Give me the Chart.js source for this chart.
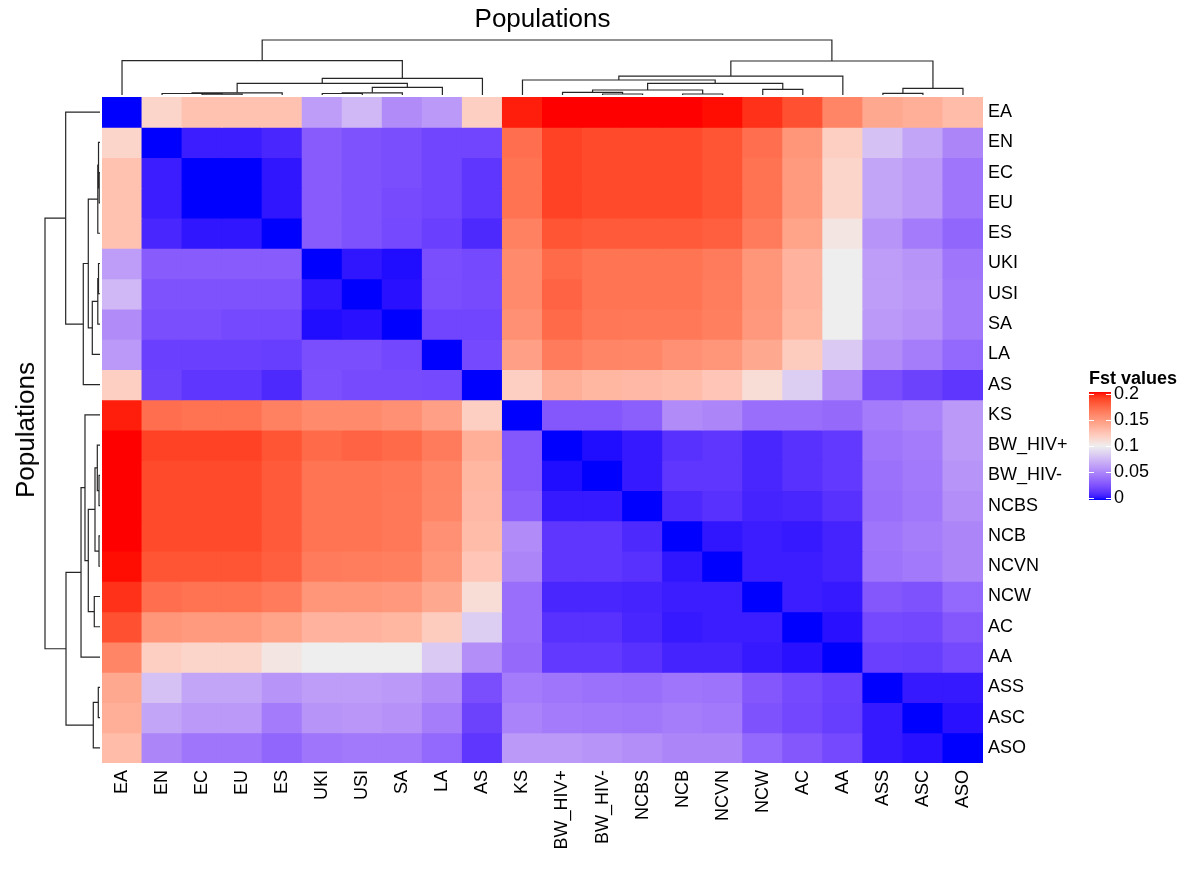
<!DOCTYPE html>
<html>
<head>
<meta charset="utf-8">
<script src="https://cdn.jsdelivr.net/npm/chart.js@4.4.1/dist/chart.umd.min.js"></script>
<style>
  body { margin: 0; background: #fff; font-family: "Liberation Sans", Arial, sans-serif; }
  #wrap { position: relative; width: 1191px; height: 870px; overflow: hidden; }
  #wrap canvas { position: absolute; }
  .txt { position: absolute; color: #000; white-space: nowrap; }
</style>
</head>
<body>
<div id="wrap">
  <canvas id="heat" width="1191" height="870" style="left:0;top:0"></canvas>
  <canvas id="colDend" width="881" height="60" style="left:102px;top:36px"></canvas>
  <canvas id="rowDend" width="62" height="666" style="left:40px;top:97px"></canvas>
  <div class="txt" style="left:102px;top:3px;width:881px;text-align:center;font-size:26px;line-height:30px">Populations</div>
  <div class="txt" style="left:25px;top:430px;font-size:26px;line-height:30px;transform:translate(-50%,-50%) rotate(-90deg)">Populations</div>
  <div id="legend"></div>
</div>
<script>
// populations, same order for rows and columns
const populations = ['EA', 'EN', 'EC', 'EU', 'ES', 'UKI', 'USI', 'SA', 'LA', 'AS', 'KS',
  'BW_HIV+', 'BW_HIV-', 'NCBS', 'NCB', 'NCVN', 'NCW', 'AC', 'AA', 'ASS', 'ASC', 'ASO'];

// pairwise Fst, one row per population
const fstValues = [
  [0, 0.115, 0.126, 0.126, 0.126, 0.062, 0.075, 0.054, 0.060, 0.118, 0.197, 0.200, 0.200, 0.200, 0.200, 0.199, 0.193, 0.183, 0.159, 0.140, 0.137, 0.129],
  [0.115, 0, 0.006, 0.006, 0.009, 0.031, 0.027, 0.025, 0.021, 0.021, 0.170, 0.188, 0.185, 0.185, 0.185, 0.181, 0.170, 0.150, 0.118, 0.079, 0.066, 0.051],
  [0.126, 0.006, 0, 0, 0.004, 0.031, 0.027, 0.025, 0.021, 0.015, 0.168, 0.188, 0.185, 0.185, 0.185, 0.181, 0.168, 0.148, 0.115, 0.066, 0.060, 0.043],
  [0.126, 0.006, 0, 0, 0.004, 0.031, 0.027, 0.024, 0.021, 0.015, 0.168, 0.188, 0.185, 0.185, 0.185, 0.181, 0.168, 0.148, 0.115, 0.066, 0.060, 0.043],
  [0.126, 0.009, 0.004, 0.004, 0, 0.031, 0.027, 0.023, 0.019, 0.010, 0.161, 0.181, 0.179, 0.179, 0.179, 0.177, 0.164, 0.143, 0.105, 0.058, 0.046, 0.036],
  [0.062, 0.031, 0.031, 0.031, 0.031, 0, 0.004, 0.002, 0.025, 0.023, 0.156, 0.172, 0.167, 0.167, 0.167, 0.164, 0.150, 0.134, 0.100, 0.062, 0.058, 0.043],
  [0.075, 0.027, 0.027, 0.027, 0.027, 0.004, 0, 0.003, 0.025, 0.024, 0.156, 0.175, 0.167, 0.167, 0.167, 0.163, 0.150, 0.134, 0.100, 0.062, 0.059, 0.045],
  [0.054, 0.025, 0.025, 0.023, 0.023, 0.002, 0.003, 0, 0.021, 0.021, 0.153, 0.172, 0.166, 0.165, 0.165, 0.162, 0.149, 0.132, 0.100, 0.060, 0.057, 0.045],
  [0.060, 0.019, 0.019, 0.019, 0.018, 0.025, 0.025, 0.022, 0, 0.023, 0.145, 0.164, 0.159, 0.158, 0.153, 0.150, 0.140, 0.120, 0.083, 0.054, 0.047, 0.037],
  [0.118, 0.020, 0.015, 0.015, 0.010, 0.026, 0.024, 0.024, 0.023, 0, 0.118, 0.137, 0.132, 0.131, 0.129, 0.123, 0.110, 0.085, 0.055, 0.025, 0.020, 0.015],
  [0.197, 0.170, 0.168, 0.168, 0.161, 0.156, 0.156, 0.153, 0.145, 0.118, 0, 0.029, 0.029, 0.033, 0.054, 0.051, 0.040, 0.040, 0.038, 0.046, 0.050, 0.060],
  [0.200, 0.188, 0.188, 0.188, 0.181, 0.172, 0.175, 0.172, 0.164, 0.137, 0.029, 0, 0.002, 0.005, 0.013, 0.015, 0.009, 0.013, 0.016, 0.043, 0.046, 0.060],
  [0.200, 0.185, 0.185, 0.185, 0.179, 0.167, 0.167, 0.166, 0.159, 0.132, 0.029, 0.002, 0, 0.005, 0.015, 0.015, 0.009, 0.013, 0.016, 0.041, 0.045, 0.058],
  [0.200, 0.185, 0.185, 0.185, 0.179, 0.167, 0.167, 0.165, 0.158, 0.131, 0.033, 0.005, 0.005, 0, 0.010, 0.013, 0.008, 0.009, 0.013, 0.040, 0.044, 0.055],
  [0.200, 0.185, 0.185, 0.185, 0.179, 0.167, 0.167, 0.165, 0.153, 0.129, 0.054, 0.015, 0.015, 0.010, 0, 0.004, 0.006, 0.005, 0.008, 0.043, 0.047, 0.051],
  [0.199, 0.181, 0.181, 0.181, 0.177, 0.164, 0.163, 0.162, 0.150, 0.123, 0.051, 0.015, 0.015, 0.013, 0.004, 0, 0.006, 0.006, 0.008, 0.042, 0.045, 0.051],
  [0.193, 0.170, 0.168, 0.168, 0.164, 0.150, 0.150, 0.149, 0.140, 0.110, 0.040, 0.009, 0.009, 0.008, 0.006, 0.006, 0, 0.006, 0.005, 0.029, 0.027, 0.037],
  [0.183, 0.150, 0.148, 0.148, 0.143, 0.134, 0.134, 0.132, 0.120, 0.085, 0.040, 0.013, 0.013, 0.009, 0.005, 0.006, 0.006, 0, 0.003, 0.023, 0.022, 0.029],
  [0.159, 0.118, 0.115, 0.115, 0.105, 0.100, 0.100, 0.100, 0.083, 0.055, 0.038, 0.016, 0.016, 0.013, 0.008, 0.008, 0.005, 0.003, 0, 0.019, 0.018, 0.023],
  [0.140, 0.079, 0.066, 0.066, 0.058, 0.062, 0.062, 0.060, 0.054, 0.025, 0.046, 0.043, 0.041, 0.040, 0.043, 0.042, 0.029, 0.023, 0.019, 0, 0.005, 0.005],
  [0.137, 0.066, 0.060, 0.060, 0.046, 0.058, 0.059, 0.057, 0.047, 0.020, 0.050, 0.046, 0.045, 0.044, 0.047, 0.045, 0.027, 0.022, 0.018, 0.005, 0, 0.003],
  [0.129, 0.051, 0.043, 0.043, 0.036, 0.043, 0.045, 0.045, 0.037, 0.015, 0.060, 0.060, 0.058, 0.055, 0.051, 0.051, 0.037, 0.029, 0.023, 0.005, 0.003, 0]
];

// hierarchical clustering: [left, right, height]; strings are leaves, numbers point to earlier merges
const dendroMerges = [
  ['EC', 'EU', 0.015],      // 0
  ['EN', 0, 0.027],         // 1
  [1, 'ES', 0.040],         // 2
  ['UKI', 'USI', 0.027],    // 3
  [3, 'SA', 0.040],         // 4
  [4, 'LA', 0.140],         // 5
  [2, 5, 0.213],            // 6
  [6, 'AS', 0.304],         // 7
  ['EA', 7, 0.624],         // 8
  ['BW_HIV-', 'NCBS', 0.018], // 9
  ['BW_HIV+', 9, 0.049],    // 10
  ['NCB', 'NCVN', 0.018],   // 11
  [10, 11, 0.091],          // 12
  ['NCW', 'AC', 0.104],     // 13
  [12, 13, 0.213],          // 14
  ['KS', 14, 0.273],        // 15
  [15, 'AA', 0.345],        // 16
  ['ASS', 'ASC', 0.031],    // 17
  [17, 'ASO', 0.122],       // 18
  [16, 18, 0.618],          // 19
  [8, 19, 1.0]              // 20
];

// colour mapping
const fstBreaks = [0, 0.1, 0.2];
const fstColours = ['#0000FF', '#EEEEEE', '#FF0000'];
const legendTicks = [0, 0.05, 0.1, 0.15, 0.2];

const FONT = '"Liberation Sans", Arial, sans-serif';

// --- LAB interpolation (like colorRamp2) ---
function toLin(c) { c /= 255; return c <= 0.04045 ? c / 12.92 : Math.pow((c + 0.055) / 1.055, 2.4); }
function fromLin(c) {
  c = Math.min(1, Math.max(0, c));
  return Math.round(255 * (c <= 0.0031308 ? 12.92 * c : 1.055 * Math.pow(c, 1 / 2.4) - 0.055));
}
function hexToLab(hex) {
  const r = toLin(parseInt(hex.slice(1, 3), 16));
  const g = toLin(parseInt(hex.slice(3, 5), 16));
  const b = toLin(parseInt(hex.slice(5, 7), 16));
  const X = (0.4124 * r + 0.3576 * g + 0.1805 * b) / 0.95047;
  const Y = 0.2126 * r + 0.7152 * g + 0.0722 * b;
  const Z = (0.0193 * r + 0.1192 * g + 0.9505 * b) / 1.08883;
  const f = t => t > 0.008856 ? Math.cbrt(t) : 7.787 * t + 16 / 116;
  const fx = f(X), fy = f(Y), fz = f(Z);
  return [116 * fy - 16, 500 * (fx - fy), 200 * (fy - fz)];
}
function labToRgb(L, a, b) {
  const fy = (L + 16) / 116, fx = fy + a / 500, fz = fy - b / 200;
  const inv = t => t * t * t > 0.008856 ? t * t * t : (t - 16 / 116) / 7.787;
  const X = 0.95047 * inv(fx), Y = inv(fy), Z = 1.08883 * inv(fz);
  const r = 3.2406 * X - 1.5372 * Y - 0.4986 * Z;
  const g = -0.9689 * X + 1.8758 * Y + 0.0415 * Z;
  const bl = 0.0557 * X - 0.2040 * Y + 1.0570 * Z;
  return `rgb(${fromLin(r)},${fromLin(g)},${fromLin(bl)})`;
}
const labStops = fstColours.map(hexToLab);
function fstColor(v) {
  let k = v >= fstBreaks[1] ? 1 : 0;
  const t = Math.min(1, Math.max(0, (v - fstBreaks[k]) / (fstBreaks[k + 1] - fstBreaks[k])));
  const p = labStops[k], q = labStops[k + 1];
  return labToRgb(p[0] + (q[0] - p[0]) * t, p[1] + (q[1] - p[1]) * t, p[2] + (q[2] - p[2]) * t);
}

// --- heatmap: one stacked bar series per row ---
const heatSets = fstValues.map((row, i) => ({
  label: populations[i],
  data: row.map(() => 1),
  backgroundColor: row.map(fstColor),
  borderWidth: 0,
  inflateAmount: 0.5,
  barPercentage: 1,
  categoryPercentage: 1
}));

new Chart(document.getElementById('heat'), {
  type: 'bar',
  data: { labels: populations, datasets: heatSets },
  options: {
    responsive: false,
    animation: false,
    layout: { padding: { left: 102, top: 97, right: 0, bottom: 0 } },
    plugins: { legend: { display: false }, tooltip: { enabled: false } },
    scales: {
      x: {
        stacked: true,
        grid: { display: false, drawTicks: false },
        border: { display: false },
        ticks: { minRotation: 90, maxRotation: 90, autoSkip: false, padding: 7, color: '#000', font: { family: FONT, size: 18 } },
        afterFit: s => { s.height = 107; }
      },
      y: { stacked: true, min: 0, max: populations.length, reverse: true, display: false },
      rowNames: {
        type: 'category',
        labels: populations,
        position: 'right',
        offset: true,
        grid: { display: false, drawTicks: false },
        border: { display: false },
        ticks: { autoSkip: false, padding: 5, color: '#000', font: { family: FONT, size: 18 } },
        afterFit: s => { s.width = 208; }
      }
    }
  }
});

// --- dendrograms ---
function nodePos(n) {
  if (typeof n === 'string') return { c: populations.indexOf(n), h: 0 };
  const m = dendroMerges[n];
  return { c: (nodePos(m[0]).c + nodePos(m[1]).c) / 2, h: m[2] };
}
function dendroSets(vertical) {
  return dendroMerges.map(m => {
    const l = nodePos(m[0]), r = nodePos(m[1]);
    const pts = [[l.c, l.h], [l.c, m[2]], [r.c, m[2]], [r.c, r.h]];
    return {
      data: pts.map(p => vertical ? { x: p[0], y: p[1] } : { x: p[1], y: p[0] }),
      showLine: true,
      borderColor: '#262626',
      borderWidth: 1.2,
      pointRadius: 0,
      clip: false
    };
  });
}
const hiddenScales = (leafAxis, hAxis) => ({
  [leafAxis]: { type: 'linear', min: -0.5, max: populations.length - 0.5, display: false, reverse: leafAxis === 'y' },
  [hAxis]: { type: 'linear', min: 0, max: 1, display: false, reverse: hAxis === 'x' }
});
const dendOpts = (padding, scales) => ({
  responsive: false,
  animation: false,
  layout: { padding },
  plugins: { legend: { display: false }, tooltip: { enabled: false } },
  scales
});

new Chart(document.getElementById('colDend'), {
  type: 'scatter',
  data: { datasets: dendroSets(true) },
  options: dendOpts({ top: 4, bottom: 1, left: 0, right: 0 }, hiddenScales('x', 'y'))
});
new Chart(document.getElementById('rowDend'), {
  type: 'scatter',
  data: { datasets: dendroSets(false) },
  options: dendOpts({ top: 0, bottom: 0, left: 5, right: 2 }, hiddenScales('y', 'x'))
});

// --- colour legend ---
const legend = document.getElementById('legend');
const barTop = 392, barBottom = 500, barLeft = 1089, barWidth = 22;
const stops = [];
for (let i = 0; i <= 40; i++) {
  const v = fstBreaks[2] * i / 40;
  stops.push(`${fstColor(v)} ${(i / 40 * 100).toFixed(1)}%`);
}
let html = `<div class="txt" style="left:1089px;top:367px;font-size:18px;font-weight:bold;line-height:22px">Fst values</div>`;
html += `<div style="position:absolute;left:${barLeft}px;top:${barTop}px;width:${barWidth}px;height:${barBottom - barTop}px;background:linear-gradient(to top, ${stops.join(',')})"></div>`;
legendTicks.forEach(v => {
  const y = 496.5 - v * 518;
  const tickY = barBottom - 2 - v / fstBreaks[2] * (barBottom - barTop - 4);
  html += `<div style="position:absolute;left:${barLeft}px;top:${tickY - 0.5}px;width:5px;height:1px;background:#fff"></div>`;
  html += `<div style="position:absolute;left:${barLeft + barWidth - 5}px;top:${tickY - 0.5}px;width:5px;height:1px;background:#fff"></div>`;
  html += `<div class="txt" style="left:1114px;top:${y - 11}px;font-size:18px;line-height:22px">${v}</div>`;
});
legend.innerHTML = html;
</script>
</body>
</html>
